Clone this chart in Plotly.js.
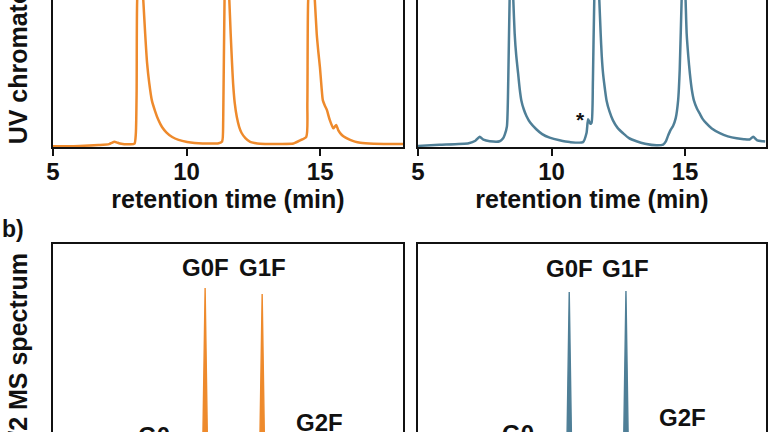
<!DOCTYPE html>
<html><head><meta charset="utf-8">
<script src="https://cdn.plot.ly/plotly-3.0.1.min.js"></script>
<style>
html,body{margin:0;padding:0;width:768px;height:432px;overflow:hidden;background:#fff}
#wrap{position:absolute;left:0;top:-90px;width:768px;height:580px}
</style>
</head><body><div id="wrap"></div>
<script>
// ---- data ----
// UV chromatograms (retention time in min, relative absorbance)
const timeA = [5.0,6.0,6.7,7.1,7.2,7.3,7.4,7.5,7.9,8.05,8.1,8.13,8.15,8.27,8.38,8.45,8.52,8.6,8.7,8.82,8.95,9.08,9.25,9.46,9.7,10.02,10.3,10.6,11.2,11.33,11.37,11.42,11.5,11.6,11.65,11.7,11.74,11.8,11.88,11.97,12.06,12.2,12.38,12.55,12.75,13.5,14.0,14.25,14.48,14.52,14.55,14.68,14.8,14.87,14.93,14.99,15.05,15.1,15.18,15.25,15.35,15.49,15.55,15.6,15.68,15.81,15.95,16.12,16.3,16.5,17.0,17.6,18.1];
const uvA   = [0.3,0.5,0.9,1.3,1.9,2.4,2.0,1.6,1.2,1.5,6,25,66,92,66,51,38,29,21,16.2,12,9,6.5,4.5,3.2,2.25,1.8,1.6,1.7,2.5,12,66,90,66,51,38,28.8,20,13.5,9,6.3,4,2.3,1.8,1.5,1.4,1.6,3,4.6,20,66,88,66,51,43,36,27,21,18.5,16.7,12.5,8.4,9.2,9.9,7.5,5.4,4.2,3.2,2.4,1.9,1.5,1.4,1.4];
const timeB = [5.0,5.8,6.9,7.15,7.31,7.45,7.69,8.06,8.18,8.25,8.33,8.38,8.43,8.5,8.57,8.62,8.68,8.75,8.81,8.87,8.96,9.06,9.2,9.43,9.65,9.93,10.3,10.68,11.18,11.31,11.37,11.45,11.5,11.55,11.6,11.7,11.79,11.84,11.88,11.93,12.0,12.06,12.17,12.3,12.48,12.68,12.9,13.18,13.5,13.93,14.18,14.28,14.36,14.45,14.55,14.65,14.74,14.8,14.87,14.95,15.02,15.06,15.12,15.18,15.25,15.33,15.44,15.55,15.65,15.8,16.0,16.3,16.6,16.93,17.2,17.42,17.55,17.7,17.92,18.0];
const uvB   = [0.5,1.0,1.7,2.8,4.6,3.3,2.6,2.6,3.8,5.6,9.3,30,66,93,66,51,41,33,26,21,17,14,11,8,5.8,4.2,3,2.2,2.2,6.3,12.5,10.5,11,30,66,93,66,51,41,33,26,21,16,12,8.5,6.2,4,2.6,1.5,0.8,1.1,2.5,5,7.5,9.5,13,21,35,66,93,66,51,41,33,26,21,17.5,15,12.8,10.6,8.3,6.2,4.8,3.9,3.5,3.4,4.6,3.0,2.6,2.5];
const timeTicks = [5, 10, 15];
const starTime = 11.08, starUV = 12.5;

// Fc/2 deconvoluted MS spectra (mass in Da, relative intensity)
const massA = [24800,25078,25086,25094,25224,25232,25240,25386,25394,25402,25548,25556,25564,25794];
const msA   = [0,0,8.6,0,0,81,0,0,78.4,0,0,14.2,0,0];
const massB = [24800,25078,25086,25094,25224,25232,25240,25386,25394,25402,25548,25556,25564,25794];
const msB   = [0,0,8.6,0,0,79.3,0,0,79.7,0,0,15.5,0,0];
const glycoforms = ['G0','G0F','G1F','G2F'];
const glyMass = [25086,25232,25394,25556];
const glyIntA = [8.6,81,78.4,14.2];
const glyIntB = [8.6,79.3,79.7,15.5];

// ---- styling ----
const ORANGE = '#EE8A2C', BLUE = '#4F7F97';
const FONT = 'Liberation Sans, Arial, Helvetica, sans-serif';
const INK = '#111';

const traces = [
  {x: timeA, y: uvA, xaxis:'x', yaxis:'y', type:'scatter', mode:'lines',
   line:{color:ORANGE, width:2.5, shape:'spline', smoothing:0.6}},
  {x: timeB, y: uvB, xaxis:'x2', yaxis:'y2', type:'scatter', mode:'lines',
   line:{color:BLUE, width:2.5, shape:'spline', smoothing:0.6}},
  {x: massA, y: msA, xaxis:'x3', yaxis:'y3', type:'scatter', mode:'lines',
   line:{color:ORANGE, width:1.4}, fill:'tozeroy', fillcolor:ORANGE},
  {x: massB, y: msB, xaxis:'x4', yaxis:'y4', type:'scatter', mode:'lines',
   line:{color:BLUE, width:1.4}, fill:'tozeroy', fillcolor:BLUE}
];

const tickFont = {family:FONT, size:24, color:INK, weight:'bold'};
const titleFont = {family:FONT, size:25, color:INK, weight:'bold'};

function xTop(domain, range, anchor){
  return {domain, range, anchor, tickvals:timeTicks, ticktext:timeTicks.map(String),
    ticks:'outside', ticklen:7, tickwidth:2, tickcolor:INK, ticklabelstandoff:-5,
    showline:true, linewidth:2, linecolor:INK, mirror:true,
    showgrid:false, zeroline:false, tickfont:tickFont,
    title:{text:'retention time (min)', font:titleFont, standoff:0}};
}
function yBox(domain, range, anchor, title){
  const ax = {domain, range, anchor, showline:true, linewidth:2, linecolor:INK, mirror:true,
    showgrid:false, zeroline:false, showticklabels:false, ticks:''};
  if (title) ax.title = {text:title, font:titleFont, standoff:16};
  return ax;
}
function xBottom(domain, range, anchor){
  return {domain, range, anchor, showline:true, linewidth:2, linecolor:INK, mirror:true,
    showgrid:false, zeroline:false, showticklabels:false, ticks:''};
}

// labels of the two main glycoforms share one level (the taller of the pair)
function labelLevels(ints){
  const top = Math.max(ints[1], ints[2]);
  return ints.map((v,i)=> (i===1||i===2) ? top : v);
}
const lvlA = labelLevels(glyIntA), lvlB = labelLevels(glyIntB);
const labFont = {family:FONT, size:24, color:INK, weight:'bold'};
const annotations = [];
glycoforms.forEach((g,i)=>{
  annotations.push({x:glyMass[i], y:lvlA[i], xref:'x3', yref:'y3', text:g, showarrow:false,
    yanchor:'middle', yshift:21, font:labFont});
  annotations.push({x:glyMass[i], y:lvlB[i], xref:'x4', yref:'y4', text:g, showarrow:false,
    yanchor:'middle', yshift:23, font:labFont});
});
annotations.push({x:starTime, y:starUV, xref:'x2', yref:'y2', text:'*', showarrow:false,
  font:{family:FONT, size:21, color:INK, weight:'bold'}});
annotations.push({x:-0.0743, y:0.448, xref:'paper', yref:'paper', xanchor:'left', yanchor:'middle',
  text:'b)', showarrow:false, font:{family:FONT, size:23, color:INK, weight:'bold'}});

const layout = {
  width:768, height:580,
  margin:{l:53, r:2, t:15, b:14},
  paper_bgcolor:'#fff', plot_bgcolor:'#fff',
  showlegend:false,
  xaxis:  xTop([0, 0.4909], [5, 18.1], 'y'),
  yaxis:  yBox([0.5971, 1], [0, 100], 'x', 'UV chromatogram'),
  xaxis2: xTop([0.5119, 1], [5, 18.03], 'y2'),
  yaxis2: yBox([0.5971, 1], [0, 100], 'x2', null),
  xaxis3: xBottom([0, 0.4909], [24800, 25794], 'y3'),
  yaxis3: yBox([0, 0.4211], [0, 100], 'x3', 'Fc/2 MS spectrum'),
  xaxis4: xBottom([0.5119, 1], [24800, 25794], 'y4'),
  yaxis4: yBox([0, 0.4211], [0, 100], 'x4', null),
  annotations
};

Plotly.newPlot('wrap', traces, layout, {staticPlot:true, displayModeBar:false});
</script>
</body></html>
